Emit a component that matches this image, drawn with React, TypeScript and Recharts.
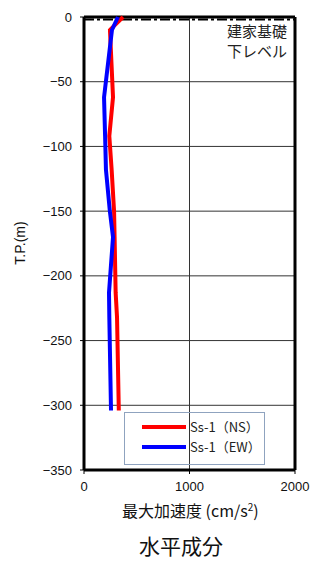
import React from 'react';
import {
    LineChart,
    Line,
    XAxis,
    YAxis,
    ReferenceLine
} from 'recharts';

// depths (T.P. m) and peak accelerations (cm/s2)
const depths = [0, -10, -62, -92, -118, -150, -170, -213, -232, -304];
const nsValues = [370, 246, 275, 240, 262, 285, 290, 300, 313, 330];
const ewValues = [322, 265, 190, 200, 208, 245, 275, 237, 240, 256];

const xTicks = [0, 1000, 2000];
const yTicks = [0, -50, -100, -150, -200, -250, -300, -350];
const foundationLevel = -2;

const series = [
    { key: 'ns', name: 'Ss-1（NS）', color: '#ff0000' },
    { key: 'ew', name: 'Ss-1（EW）', color: '#0000ff' }
];

const data = depths.map((d, i) => ({ depth: d, ns: nsValues[i], ew: ewValues[i] }));

const numFont = '"Liberation Sans", Arial, sans-serif';
const jpFont = '"Noto Sans CJK JP", sans-serif';

const fmt = (v: number) => String(v).replace('-', '−');

const App = () => {
    return (
        <div style={{ position: 'relative', width: 311, height: 561, fontFamily: jpFont }}>
            {/* drop the default body margin so the chart can use the full window */}
            <style>{'body{margin:0;overflow:hidden}'}</style>
            <LineChart
                width={311}
                height={561}
                data={data}
                layout="vertical"
                margin={{ top: 17, right: 16, left: 0, bottom: 0 }}
            >
                {/* grid drawn as reference lines so it follows the axis scales */}
                {yTicks.map(t => (
                    <ReferenceLine key={'h' + t} y={t} stroke="#333" strokeWidth={1} />
                ))}
                <ReferenceLine x={1000} stroke="#333" strokeWidth={1} />

                <XAxis
                    type="number"
                    dataKey="ns"
                    domain={[0, 2000]}
                    ticks={xTicks}
                    height={91}
                    axisLine={{ stroke: '#000', strokeWidth: 3 }}
                    tickLine={{ stroke: '#000' }}
                    tickSize={4}
                    tickMargin={8}
                    tick={{ fill: '#111', fontSize: 13, fontFamily: numFont }}
                />
                <YAxis
                    type="number"
                    dataKey="depth"
                    domain={[-350, 0]}
                    ticks={yTicks}
                    reversed
                    width={84}
                    axisLine={{ stroke: '#000', strokeWidth: 3 }}
                    tickLine={{ stroke: '#000' }}
                    tickSize={4}
                    tickMargin={8}
                    tickFormatter={fmt}
                    tick={{ fill: '#111', fontSize: 13, fontFamily: numFont }}
                />

                <ReferenceLine y={0} stroke="#000" strokeWidth={3} />
                <ReferenceLine x={2000} stroke="#000" strokeWidth={3} />
                {/* foundation level of the building */}
                <ReferenceLine y={foundationLevel} stroke="#000" strokeWidth={2} strokeDasharray="10 3 3 3" />

                {series.map(s => (
                    <Line
                        key={s.key}
                        dataKey={s.key}
                        name={s.name}
                        stroke={s.color}
                        strokeWidth={4}
                        dot={false}
                        isAnimationActive={false}
                    />
                ))}
            </LineChart>

            {/* legend box */}
            <div style={{
                position: 'absolute', left: 124, top: 412, width: 139, height: 47,
                border: '1px solid #8fa3bf', paddingTop: 4
            }}>
                {series.map(s => (
                    <div key={s.key} style={{ display: 'flex', alignItems: 'center', height: 20 }}>
                        <div style={{ width: 44, height: 4, background: s.color, marginLeft: 17, marginRight: 4 }} />
                        <span style={{ fontSize: 13, lineHeight: '20px', color: '#222' }}>{s.name}</span>
                    </div>
                ))}
            </div>

            <div style={{ position: 'absolute', left: 227, top: 21, fontSize: 15, lineHeight: '20px', color: '#222' }}>
                建家基礎<br />下レベル
            </div>

            <div style={{
                position: 'absolute', left: 20, top: 243, transform: 'translate(-50%, -50%) rotate(-90deg)',
                fontSize: 14, fontFamily: numFont, color: '#111', whiteSpace: 'nowrap'
            }}>
                T.P.(m)
            </div>

            <div style={{ position: 'absolute', left: 122, top: 500, fontSize: 16, lineHeight: '20px', color: '#111', whiteSpace: 'nowrap' }}>
                最大加速度 (cm/s<sup style={{ fontSize: 10, lineHeight: 0 }}>2</sup>)
            </div>

            <div style={{ position: 'absolute', left: 139, top: 534, fontSize: 21, lineHeight: '22px', color: '#111', whiteSpace: 'nowrap' }}>
                水平成分
            </div>
        </div>
    );
};

export default App;
